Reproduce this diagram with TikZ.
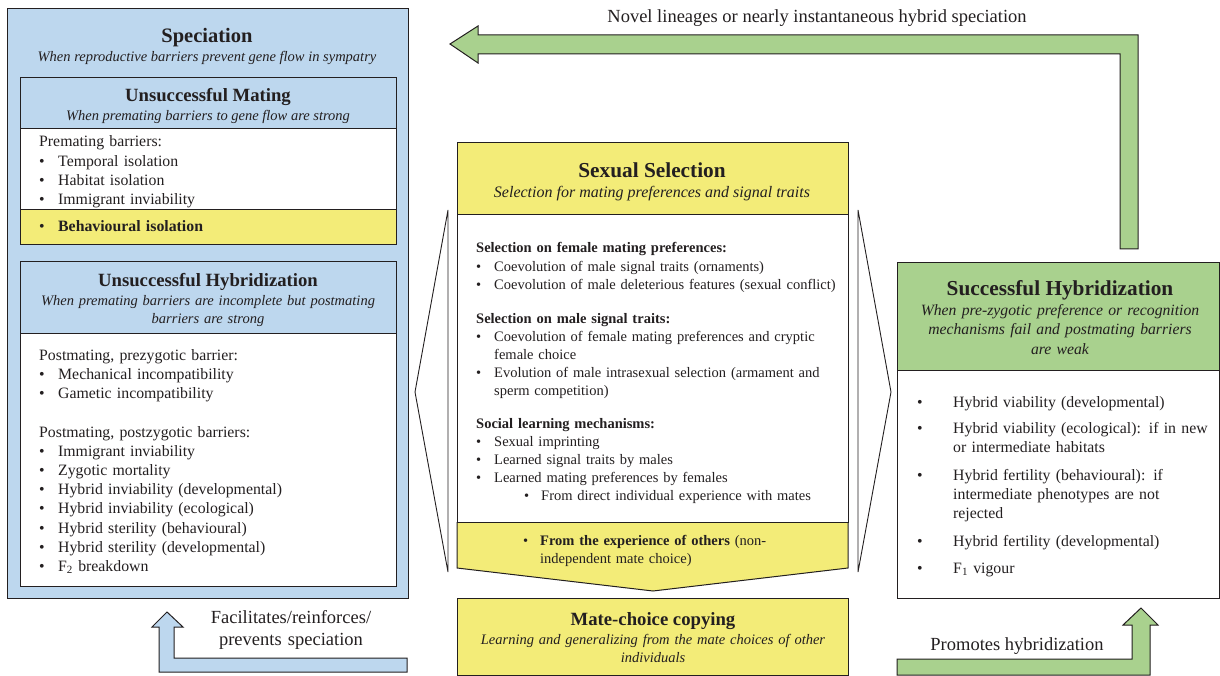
\documentclass[tikz,border=0pt]{standalone}
\usepackage{fontspec}
\setmainfont{Liberation Serif}
\definecolor{sblue}{HTML}{BDD7EE}
\definecolor{syellow}{HTML}{F3EC78}
\definecolor{sgreen}{HTML}{A9D18E}
\definecolor{ink}{HTML}{231F20}
\newcommand\bul[1]{\makebox[#1][l]{\textbullet}}
\newcommand\ind[1]{\hspace*{#1}}
\begin{document}
\begin{tikzpicture}[x=1pt,y=-1pt,
  box/.style={draw=ink, line width=1pt},
  ttl/.style={font=\fontsize{21.3}{25}\selectfont\bfseries, anchor=base, inner sep=0, text=ink},
  sttl/.style={font=\fontsize{18.7}{22}\selectfont\bfseries, anchor=base, inner sep=0, text=ink},
  sub/.style={font=\fontsize{14.5}{18}\selectfont\itshape, anchor=base, inner sep=0, align=center, text=ink},
  body/.style={font=\fontsize{15.8}{19.2}\selectfont, anchor=base west, inner sep=0, align=left, text=ink, text width=#1},
  body/.default=350pt,
  cbody/.style={font=\fontsize{14.5}{18.1}\selectfont, anchor=base west, inner sep=0, align=left, text=ink, text width=370pt},
  lbl/.style={font=\fontsize{18.5}{22}\selectfont, anchor=base, inner sep=0, align=center, text=ink},
  ]
\useasboundingbox (0,0) rectangle (1220,676);

% ---------- Speciation panel ----------
\fill[sblue] (7,9) rectangle (408,598);
\draw[box] (7,9) rectangle (408,598);
\node[ttl, font=\fontsize{20.5}{24}\selectfont\bfseries] (spec) at (207,43) {Speciation};
\node[sub] (specsub) at (207,62) {When reproductive barriers prevent gene flow in sympatry};

% Unsuccessful mating
\fill[sblue] (20,78) rectangle (396,129);
\fill[white] (20,129) rectangle (396,210);
\fill[syellow] (20,210) rectangle (396,245);
\draw[box] (20,78) rectangle (396,245);
\draw[box] (20,129) -- (396,129);
\draw[box] (20,210) -- (396,210);
\node[sttl] (um) at (208,102) {Unsuccessful Mating};
\node[sub] (umsub) at (208,121) {When premating barriers to gene flow are strong};
\node[body] (premat) at (39,147) {Premating barriers:\\
  \bul{19pt}Temporal isolation\\
  \bul{19pt}Habitat isolation\\
  \bul{19pt}Immigrant inviability};
\node[body] (behav) at (39,232) {\bul{19pt}\textbf{Behavioural isolation}};

% Unsuccessful hybridization
\fill[sblue] (20,262) rectangle (396,333);
\fill[white] (20,333) rectangle (396,586);
\draw[box] (20,262) rectangle (396,586);
\draw[box] (20,333) -- (396,333);
\node[sttl] (uh) at (208,287) {Unsuccessful Hybridization};
\node[sub, text width=370pt] (uhsub) at (208,305) {When premating barriers are incomplete but postmating\\ barriers are strong};
\node[body] (prez) at (39,360) {Postmating, prezygotic barrier:\\
  \bul{19pt}Mechanical incompatibility\\
  \bul{19pt}Gametic incompatibility};
\node[body] (postz) at (39,437) {Postmating, postzygotic barriers:\\
  \bul{19pt}Immigrant inviability\\
  \bul{19pt}Zygotic mortality\\
  \bul{19pt}Hybrid inviability (developmental)\\
  \bul{19pt}Hybrid inviability (ecological)\\
  \bul{19pt}Hybrid sterility (behavioural)\\
  \bul{19pt}Hybrid sterility (developmental)\\
  \bul{19pt}F\textsubscript{2} breakdown};

% ---------- Side wedges ----------
\draw[line width=0.9pt, draw=ink, fill=white] (448,210) -- (415,392) -- (448,572) -- cycle;
\draw[line width=0.9pt, draw=ink, fill=white] (858,210) -- (891,392) -- (858,572) -- cycle;

% ---------- Sexual selection panel ----------
\fill[syellow] (457,143) rectangle (848,215);
\fill[white] (457,215) rectangle (848,522);
\fill[syellow] (457,522) -- (848,522) -- (848,568) -- (653,591) -- (457,568) -- cycle;
\draw[box] (457,215) -- (457,143) -- (848,143) -- (848,215);
\draw[box] (457,215) rectangle (848,522);
\draw[box] (457,522) -- (457,568) -- (653,591) -- (848,568) -- (848,522);
\node[ttl] (ss) at (652,178) {Sexual Selection};
\node[sub, font=\fontsize{16}{18}\selectfont\itshape] (sssub) at (652,198) {Selection for mating preferences and signal traits};
\node[cbody] (fem) at (476,253) {\textbf{Selection on female mating preferences:}\\
  \bul{18pt}Coevolution of male signal traits (ornaments)\\
  \bul{18pt}Coevolution of male deleterious features (sexual conflict)};
\node[cbody] (male) at (476,323) {\textbf{Selection on male signal traits:}\\
  \bul{18pt}Coevolution of female mating preferences and cryptic\\
  \ind{18pt}female choice\\
  \bul{18pt}Evolution of male intrasexual selection (armament and\\
  \ind{18pt}sperm competition)};
\node[cbody] (soc) at (476,428) {\textbf{Social learning mechanisms:}\\
  \bul{18pt}Sexual imprinting\\
  \bul{18pt}Learned signal traits by males\\
  \bul{18pt}Learned mating preferences by females\\
  \ind{48pt}\bul{17pt}From direct individual experience with mates};
\node[cbody] (others) at (476,545) {\ind{47pt}\bul{17pt}\textbf{From the experience of others} (non-\\
  \ind{64pt}independent mate choice)};

% Mate-choice copying
\fill[syellow] (457,598) rectangle (848,675);
\draw[box] (457,598) rectangle (848,675);
\node[sttl] (mcc) at (653,625) {Mate-choice copying};
\node[sub, text width=380pt] (mccsub) at (653,644) {Learning and generalizing from the mate choices of other\\ individuals};

% ---------- Successful hybridization panel ----------
\fill[sgreen] (897,263) rectangle (1219,370);
\fill[white] (897,370) rectangle (1219,598);
\draw[box] (897,263) rectangle (1219,598);
\draw[box] (897,370) -- (1219,370);
\node[ttl] (sh) at (1060,295) {Successful Hybridization};
\node[sub, font=\fontsize{15.7}{19.5}\selectfont\itshape, text width=315pt] (shsub) at (1060,315) {When pre-zygotic preference or recognition\\ mechanisms fail and postmating barriers\\ are weak};
\node[body=300pt] (sh1) at (917,407) {\bul{36pt}Hybrid viability (developmental)};
\node[body=300pt] (sh2) at (917,433) {\bul{36pt}Hybrid viability (ecological): if in new\\ \ind{36pt}or intermediate habitats};
\node[body=300pt] (sh3) at (917,480) {\bul{36pt}Hybrid fertility (behavioural): if\\ \ind{36pt}intermediate phenotypes are not\\ \ind{36pt}rejected};
\node[body=300pt] (sh4) at (917,546) {\bul{36pt}Hybrid fertility (developmental)};
\node[body=300pt] (sh5) at (917,573) {\bul{36pt}F\textsubscript{1} vigour};

% ---------- Block arrows ----------
\draw[box, fill=sgreen] (1138,249) -- (1138,35) -- (478,35) -- (478,26) -- (450,44)
  -- (478,63) -- (478,54) -- (1120,54) -- (1120,249) -- cycle;
\node[lbl] (novel) at (817,23) {Novel lineages or nearly instantaneous hybrid speciation};

\draw[box, fill=sblue] (407,658) -- (174,658) -- (174,627) -- (183,627) -- (167,612)
  -- (152,627) -- (159,627) -- (159,672) -- (407,672) -- cycle;
\node[lbl, text width=220pt] (facil) at (291,623) {Facilitates/reinforces/\\ prevents speciation};

\draw[box, fill=sgreen] (897,659) -- (1132,659) -- (1132,625) -- (1123,625) -- (1141,608)
  -- (1158,625) -- (1150,625) -- (1150,675) -- (897,675) -- cycle;
\node[lbl] (promo) at (1017,650) {Promotes hybridization};
\end{tikzpicture}
\end{document}
